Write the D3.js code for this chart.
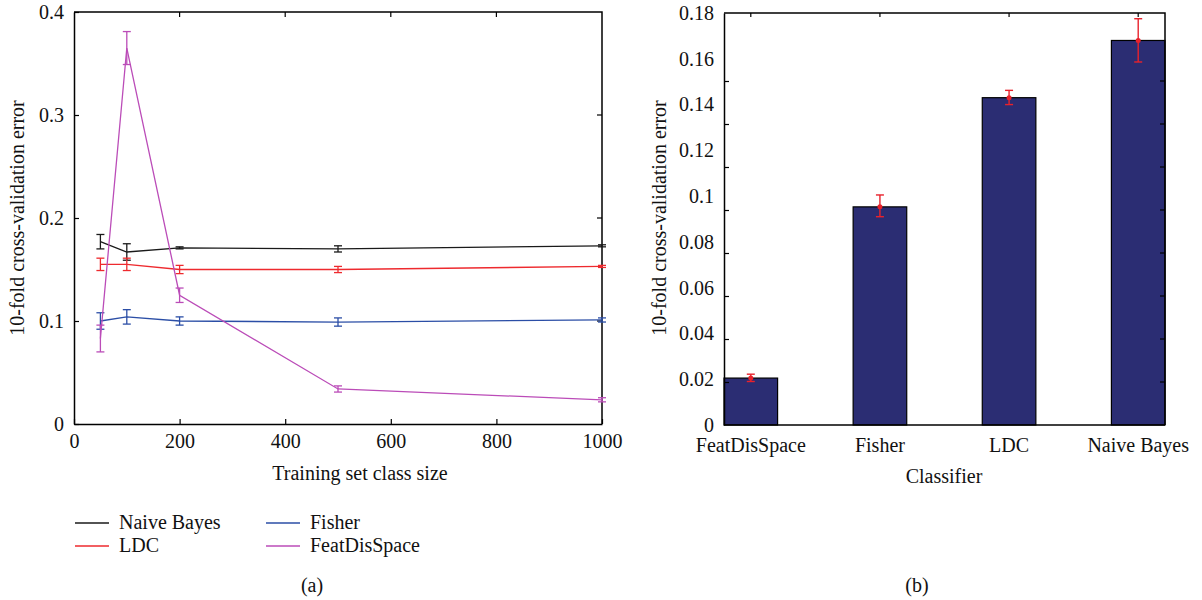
<!DOCTYPE html>
<meta charset="utf-8">
<style>
body{ margin:0; background:#fff; }
text{ font-family:"Liberation Serif", serif; font-size:20px; fill:#111; }
.frame{ fill:none; stroke:#000; stroke-width:1.5px; }
.axis path{ stroke:#000; stroke-width:1.5px; }
.axis line{ stroke:#000; stroke-width:1.2px; }
.axis text{ font-family:"Liberation Serif", serif; font-size:20px; fill:#111; }
</style>
<body>
<script src="https://d3js.org/d3.v7.min.js"></script>
<script>
// ---- panel (a) data
var sizes = [50, 100, 200, 500, 1000];
var naiveBayes    = [0.177, 0.167, 0.171, 0.170, 0.173];
var naiveBayesErr = [0.007, 0.008, 0.001, 0.003, 0.001];
var ldc           = [0.155, 0.155, 0.150, 0.150, 0.153];
var ldcErr        = [0.006, 0.006, 0.004, 0.003, 0.001];
var fisher        = [0.100, 0.104, 0.100, 0.099, 0.101];
var fisherErr     = [0.008, 0.007, 0.004, 0.004, 0.002];
var featDis       = [0.083, 0.365, 0.125, 0.034, 0.0235];
var featDisErr    = [0.013, 0.016, 0.007, 0.003, 0.002];
var xTicksA = [0, 200, 400, 600, 800, 1000];
var yTicksA = [0, 0.1, 0.2, 0.3, 0.4];

// ---- panel (b) data
var classifiers = ["FeatDisSpace", "Fisher", "LDC", "Naive Bayes"];
var cvError     = [0.0205, 0.0953, 0.1430, 0.1680];
var cvErrLo     = [0.0190, 0.0910, 0.1400, 0.1586];
var cvErrHi     = [0.0222, 0.1005, 0.1462, 0.1775];
var yTicksB = [0, 0.02, 0.04, 0.06, 0.08, 0.1, 0.12, 0.14, 0.16, 0.18];

var svg = d3.select("body").append("svg").attr("width", 1202).attr("height", 600);

// ================= panel (a) =================
var x = d3.scaleLinear().domain([0, 1000]).range([74, 602]);
var y = d3.scaleLinear().domain([0, 0.4]).range([424, 12]);

var series = [
  {name:"Naive Bayes",  v:naiveBayes, e:naiveBayesErr, color:"#1a1a1a"},
  {name:"LDC",          v:ldc,        e:ldcErr,        color:"#ee2a2e"},
  {name:"Fisher",       v:fisher,     e:fisherErr,     color:"#2b4ea6"},
  {name:"FeatDisSpace", v:featDis,    e:featDisErr,    color:"#bb4cb8"}
];

var ga = svg.append("g");

// frame (top / right) with inward ticks
ga.append("path").attr("class","frame")
  .attr("d","M"+x(0)+","+y(0.4)+"H"+x(1000)+"V"+y(0));
ga.selectAll(".ttick").data(xTicksA.slice(1,-1)).join("line")
  .attr("x1",d=>x(d)).attr("x2",d=>x(d)).attr("y1",y(0.4)).attr("y2",y(0.4)+5)
  .attr("stroke","#000").attr("stroke-width",1.2);
ga.selectAll(".rtick").data(yTicksA.slice(1,-1)).join("line")
  .attr("y1",d=>y(d)).attr("y2",d=>y(d)).attr("x1",x(1000)).attr("x2",x(1000)-5)
  .attr("stroke","#000").attr("stroke-width",1.2);

ga.append("g").attr("class","axis").attr("transform","translate(0,"+y(0)+")")
  .call(d3.axisBottom(x).tickValues(xTicksA).tickSizeInner(-5).tickSizeOuter(0).tickPadding(10).tickFormat(d3.format("d")));
ga.append("g").attr("class","axis").attr("transform","translate("+x(0)+",0)")
  .call(d3.axisLeft(y).tickValues(yTicksA).tickSizeInner(-5).tickSizeOuter(0).tickPadding(10).tickFormat(d=>d===0?"0":d3.format(".1f")(d)));

ga.append("text").attr("x",360).attr("y",480).attr("text-anchor","middle").text("Training set class size");
ga.append("text").attr("transform","translate(24,218) rotate(-90)").attr("text-anchor","middle")
  .text("10-fold cross-validation error");

var line = d3.line().x((d,i)=>x(sizes[i])).y(d=>y(d));
series.forEach(function(s){
  var g = ga.append("g");
  g.append("path").attr("d", line(s.v)).attr("fill","none")
    .attr("stroke", s.color).attr("stroke-width",1.3);
  var bars = g.selectAll("g.eb").data(s.v).join("g");
  bars.append("line").attr("x1",(d,i)=>x(sizes[i])).attr("x2",(d,i)=>x(sizes[i]))
    .attr("y1",(d,i)=>y(d - s.e[i])).attr("y2",(d,i)=>y(d + s.e[i]));
  bars.append("line").attr("x1",(d,i)=>x(sizes[i])-4).attr("x2",(d,i)=>x(sizes[i])+4)
    .attr("y1",(d,i)=>y(d - s.e[i])).attr("y2",(d,i)=>y(d - s.e[i]));
  bars.append("line").attr("x1",(d,i)=>x(sizes[i])-4).attr("x2",(d,i)=>x(sizes[i])+4)
    .attr("y1",(d,i)=>y(d + s.e[i])).attr("y2",(d,i)=>y(d + s.e[i]));
  bars.selectAll("line").attr("stroke", s.color).attr("stroke-width",1.3);
});

// legend
var legPos = [[75,523],[75,546],[266,523],[266,546]];
series.forEach(function(s,i){
  var p = legPos[i];
  ga.append("line").attr("x1",p[0]).attr("x2",p[0]+34).attr("y1",p[1]).attr("y2",p[1])
    .attr("stroke",s.color).attr("stroke-width",1.3);
  ga.append("text").attr("x",p[0]+44).attr("y",p[1]+6).text(s.name);
});
ga.append("text").attr("x",312).attr("y",592).attr("text-anchor","middle").text("(a)");

// ================= panel (b) =================
var xb = d3.scaleBand().domain(classifiers).range([724, 1165]).paddingInner(0.585).paddingOuter(0);
var yb = d3.scaleLinear().domain([0, 0.18]).range([425, 13]);
// the tick marks in the original sit on a slightly different spacing than the labels
var ybTick = d3.scaleLinear().domain([0, 0.18]).range([425, 38]);

var gb = svg.append("g");

gb.selectAll("rect.bar").data(cvError).join("rect")
  .attr("x",(d,i)=>xb(classifiers[i])).attr("width",xb.bandwidth())
  .attr("y",d=>yb(d)).attr("height",d=>yb(0)-yb(d))
  .attr("fill","#2b2d73").attr("stroke","#000").attr("stroke-width",1.2);

gb.append("path").attr("class","frame")
  .attr("d","M"+724+","+yb(0.18)+"H"+1165+"V"+yb(0));
gb.selectAll(".ttb").data(classifiers).join("line")
  .attr("x1",d=>xb(d)+xb.bandwidth()/2).attr("x2",d=>xb(d)+xb.bandwidth()/2)
  .attr("y1",yb(0.18)).attr("y2",yb(0.18)+4).attr("stroke","#000").attr("stroke-width",1.2);
gb.selectAll(".rtb").data(yTicksB.slice(1,-1)).join("line")
  .attr("x1",1165).attr("x2",1160).attr("y1",d=>ybTick(d)).attr("y2",d=>ybTick(d))
  .attr("stroke","#000").attr("stroke-width",1.2);

// left axis: labels from yb, tick marks from ybTick
gb.append("g").attr("class","axis").attr("transform","translate(724,0)")
  .call(d3.axisLeft(yb).tickValues(yTicksB).tickSize(0).tickPadding(10)
    .tickFormat(d=>d===0?"0":d3.format("")(+d.toFixed(2))));
gb.append("g").attr("class","axis").attr("transform","translate(724,0)")
  .call(d3.axisLeft(ybTick).tickValues(yTicksB.slice(1,-1)).tickSizeInner(-5).tickSizeOuter(0).tickFormat(""))
  .select(".domain").remove();

gb.append("g").attr("class","axis").attr("transform","translate(0,"+yb(0)+")")
  .call(d3.axisBottom(xb).tickSize(0).tickPadding(13))
  .select(".domain").attr("d","M724,0H1165");

gb.append("text").attr("x",944).attr("y",483).attr("text-anchor","middle").text("Classifier");
gb.append("text").attr("transform","translate(666,218) rotate(-90)").attr("text-anchor","middle")
  .text("10-fold cross-validation error");

var eb = gb.selectAll("g.err").data(cvError).join("g");
var cx = i => xb(classifiers[i]) + xb.bandwidth()/2;
eb.append("line").attr("x1",(d,i)=>cx(i)).attr("x2",(d,i)=>cx(i))
  .attr("y1",(d,i)=>yb(cvErrLo[i])).attr("y2",(d,i)=>yb(cvErrHi[i]));
eb.append("line").attr("x1",(d,i)=>cx(i)-4).attr("x2",(d,i)=>cx(i)+4)
  .attr("y1",(d,i)=>yb(cvErrLo[i])).attr("y2",(d,i)=>yb(cvErrLo[i]));
eb.append("line").attr("x1",(d,i)=>cx(i)-4).attr("x2",(d,i)=>cx(i)+4)
  .attr("y1",(d,i)=>yb(cvErrHi[i])).attr("y2",(d,i)=>yb(cvErrHi[i]));
eb.selectAll("line").attr("stroke","#e8222c").attr("stroke-width",1.4);
eb.append("circle").attr("cx",(d,i)=>cx(i)).attr("cy",d=>yb(d)).attr("r",2.5).attr("fill","#e8222c");

gb.append("text").attr("x",917).attr("y",592).attr("text-anchor","middle").text("(b)");
</script>
</body>
</html>
